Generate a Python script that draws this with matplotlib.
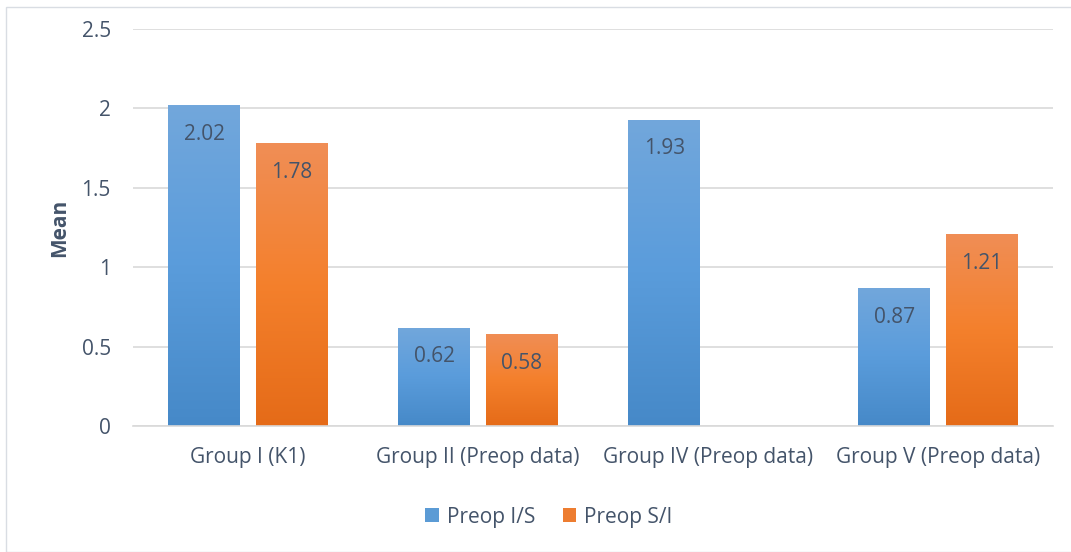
import numpy as np
import matplotlib
matplotlib.use("Agg")
import matplotlib.pyplot as plt
from matplotlib.colors import LinearSegmentedColormap
from matplotlib.patches import Rectangle

categories = ["Group I (K1)", "Group II (Preop data)", "Group IV (Preop data)", "Group V (Preop data)"]
series_names = ["Preop I/S", "Preop S/I"]
preop_is = [2.02, 0.62, 1.93, 0.87]
preop_si = [1.78, 0.58, None, 1.21]
y_ticks = [0, 0.5, 1, 1.5, 2, 2.5]

plt.rcParams["font.family"] = ["Open Sans", "DejaVu Sans"]
text_color = "#44546A"
grid_color = "#D9D9D9"

# vertical gradients (top, middle, bottom) for each series
gradients = [
    ["#72A7DC", "#5A9CDB", "#4689C8"],
    ["#F08E56", "#F4802C", "#E56B18"],
]
solid = ["#5B9BD5", "#ED7D31"]

W, H = 1071, 552
fig = plt.figure(figsize=(W / 100, H / 100), dpi=100)
fig.patches.append(Rectangle((6 / W, 0), 1.1, 1 - 7 / H, transform=fig.transFigure,
                             fill=False, edgecolor="#D9DDE3", linewidth=1.0))
ax = fig.add_axes([133 / W, 1 - 426 / H, (1053 - 133) / W, (426 - 29) / H])

x = np.arange(len(categories))
width = 0.313
offset = 0.19

def gradient_bar(xc, h, cols):
    bar = ax.bar(xc, h, width, color="none", edgecolor="none", zorder=3)[0]
    cmap = LinearSegmentedColormap.from_list("g", cols[::-1])
    img = np.linspace(0, 1, 256).reshape(-1, 1)
    im = ax.imshow(img, cmap=cmap, aspect="auto", origin="lower",
                   extent=[xc - width / 2, xc + width / 2, 0, h], zorder=3)
    im.set_clip_path(bar)
    return bar

for i, series in enumerate([preop_is, preop_si]):
    sign = -1 if i == 0 else 1
    for j, v in enumerate(series):
        if v is None:
            continue
        xc = x[j] + sign * offset
        gradient_bar(xc, v, gradients[i])
        ax.text(xc, v - 0.185, f"{v:.2f}", ha="center", va="center",
                fontsize=15, color=text_color, zorder=4)

ax.set_xlim(-0.5, len(categories) - 0.5)
ax.set_ylim(0, 2.5)
ax.set_yticks(y_ticks)
ax.set_yticklabels([f"{t:g}" for t in y_ticks])
ax.set_xticks(x)
ax.set_xticklabels(categories)
ax.tick_params(axis="both", length=0, labelsize=15, colors=text_color)
ax.tick_params(axis="y", pad=16)
ax.tick_params(axis="x", pad=15)
ax.yaxis.grid(True, color=grid_color, linewidth=1.2, zorder=0)
ax.set_axisbelow(True)
for s in ["top", "right", "left"]:
    ax.spines[s].set_visible(False)
ax.spines["bottom"].set_color(grid_color)
ax.spines["bottom"].set_linewidth(1.2)
ax.spines["bottom"].set_zorder(5)

fig.text(60 / W, 1 - 228 / H, "Mean", rotation=90, ha="center", va="center",
         fontsize=15, fontweight="bold", color=text_color)

handles = [Rectangle((0, 0), 1, 1, facecolor=c, edgecolor="none") for c in solid]
fig.legend(handles, series_names, loc="center", bbox_to_anchor=(549 / W, 1 - 517 / H),
           ncol=2, frameon=False, fontsize=15, labelcolor=text_color,
           handlelength=0.65, handleheight=0.65, handletextpad=0.4, columnspacing=1.3)

fig.savefig("out.png", dpi=100)
